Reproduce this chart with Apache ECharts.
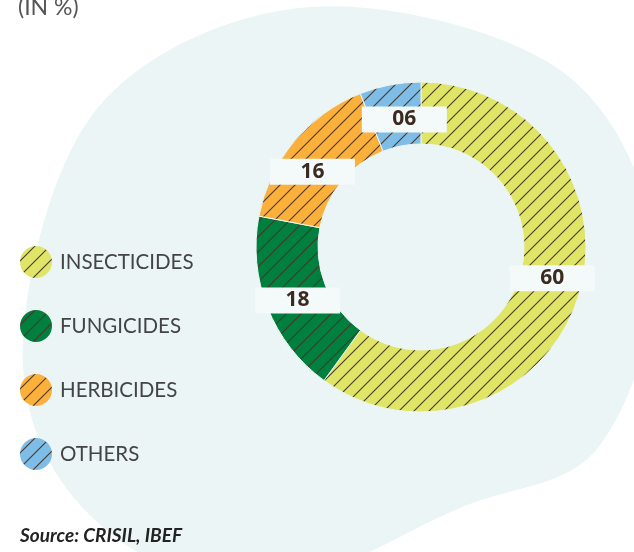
<!DOCTYPE html>
<html>
<head>
<meta charset="utf-8">
<script src="https://cdn.jsdelivr.net/npm/echarts@6/dist/echarts.min.js"></script>
<style>
  html, body { margin: 0; padding: 0; background: #ffffff; }
  #chart { width: 634px; height: 552px; }
</style>
</head>
<body>
<div id="chart"></div>
<script>
// Market share of crop protection segments (in %)
const categories = ['INSECTICIDES', 'FUNGICIDES', 'HERBICIDES', 'OTHERS'];
const shares = [60, 18, 16, 6];
const segmentColors = ['#dfe566', '#00803f', '#fbb03b', '#7dbde7'];

// Small nudges so the value tags sit clear of the segment joins
const labelNudge = [[1, -11], [4, 3], [-3, 12], [9, 7]];

const hatchColor = '#4a3626';
const blobColor = '#ecf5f6';

// Diagonal hatch tile laid over each fill colour
function hatchPattern(fill) {
  const size = 15;
  const c = document.createElement('canvas');
  c.width = size;
  c.height = size;
  const ctx = c.getContext('2d');
  ctx.fillStyle = fill;
  ctx.fillRect(0, 0, size, size);
  ctx.strokeStyle = hatchColor;
  ctx.lineWidth = 1.1;
  for (let k = -1; k <= 1; k++) {
    ctx.beginPath();
    ctx.moveTo(-2, size + 2 + k * size);
    ctx.lineTo(size + 2, -2 + k * size);
    ctx.stroke();
  }
  return { image: c, repeat: 'repeat' };
}

// Closed Catmull-Rom outline, sampled densely into polygon points
function smoothClosedOutline(pts, steps) {
  const n = pts.length;
  const out = [];
  for (let i = 0; i < n; i++) {
    const p0 = pts[(i - 1 + n) % n];
    const p1 = pts[i];
    const p2 = pts[(i + 1) % n];
    const p3 = pts[(i + 2) % n];
    for (let s = 0; s < steps; s++) {
      const t = s / steps, t2 = t * t, t3 = t2 * t;
      const f = (a, b, c, d) => 0.5 * (2 * b + (-a + c) * t +
        (2 * a - 5 * b + 4 * c - d) * t2 + (-a + 3 * b - 3 * c + d) * t3);
      out.push([f(p0[0], p1[0], p2[0], p3[0]), f(p0[1], p1[1], p2[1], p3[1])]);
    }
  }
  return out;
}

// Soft background shape behind the chart (a few anchors, smoothed)
const blobOutline = [
  [310, 7], [560, 70], [655, 250], [600, 445], [460, 508],
  [250, 590], [80, 505], [23, 340], [100, 105]
];

const chart = echarts.init(document.getElementById('chart'), null, { renderer: 'canvas' });

const pieData = categories.map((name, i) => ({
  name: name,
  value: shares[i],
  itemStyle: { color: hatchPattern(segmentColors[i]) },
  label: { offset: labelNudge[i] }
}));

const option = {
  animation: false,
  backgroundColor: '#ffffff',
  graphic: [
    {
      type: 'polygon',
      z: 0,
      silent: true,
      shape: { points: smoothClosedOutline(blobOutline, 40) },
      style: { fill: blobColor }
    },
    {
      type: 'text',
      left: 18,
      top: -4,
      z: 1,
      silent: true,
      style: {
        text: '(IN %)',
        font: '23px "Lato", "Noto Sans", sans-serif',
        fill: '#555555'
      }
    },
    {
      type: 'text',
      left: 20,
      top: 526,
      z: 1,
      silent: true,
      style: {
        text: 'Source: CRISIL, IBEF',
        font: 'italic bold 19px "Lato", "Noto Sans", sans-serif',
        fill: '#222222'
      }
    }
  ],
  legend: {
    orient: 'vertical',
    left: 20,
    top: 246,
    padding: 0,
    icon: 'circle',
    itemWidth: 32,
    itemHeight: 32,
    itemGap: 32,
    selectedMode: false,
    data: categories,
    itemStyle: { borderWidth: 0 },
    textStyle: {
      fontFamily: 'Lato, "Noto Sans", sans-serif',
      fontSize: 20.5,
      color: '#444444',
      padding: [0, 0, 0, 3]
    }
  },
  series: [
    {
      type: 'pie',
      z: 3,
      center: [421, 247],
      radius: [103, 165],
      startAngle: 90,
      clockwise: true,
      silent: true,
      itemStyle: { borderColor: '#eef6f7', borderWidth: 1 },
      label: {
        show: true,
        position: 'inside',
        formatter: p => String(p.value).padStart(2, '0'),
        fontFamily: '"Open Sans", "Noto Sans", sans-serif',
        fontWeight: 'bold',
        fontSize: 21,
        color: '#3b2a1f',
        backgroundColor: '#f4f9fa',
        width: 85,
        height: 26,
        lineHeight: 26,
        align: 'center',
        verticalAlign: 'middle'
      },
      labelLine: { show: false },
      data: pieData
    }
  ]
};

chart.setOption(option);
</script>
</body>
</html>
